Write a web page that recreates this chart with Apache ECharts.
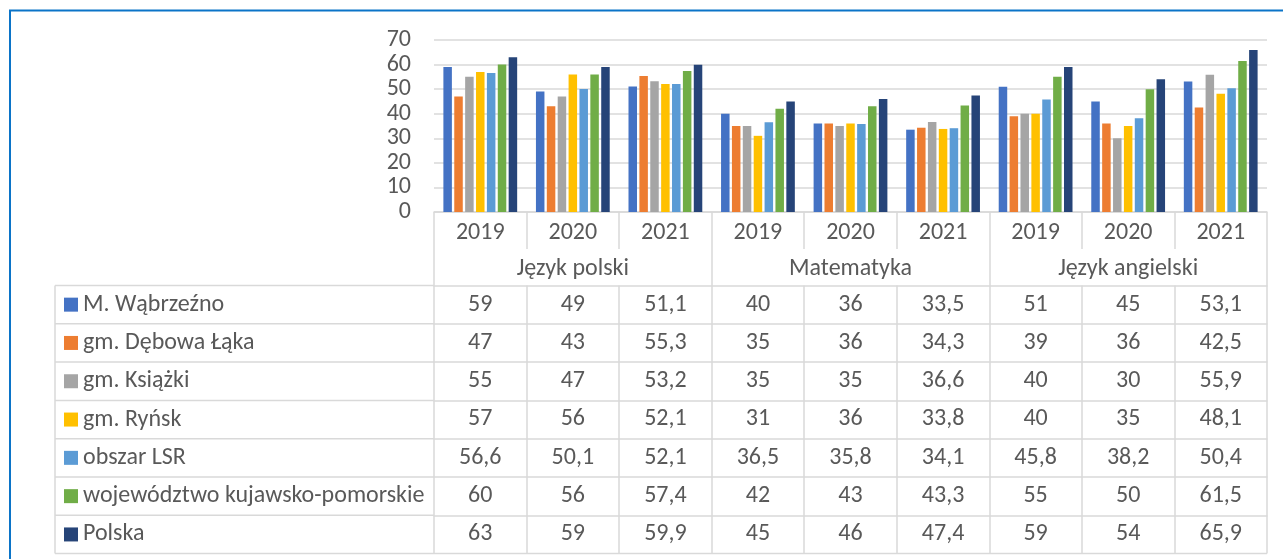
<!DOCTYPE html>
<html>
<head>
<meta charset="utf-8">
<script src="https://cdn.jsdelivr.net/npm/echarts@6/dist/echarts.min.js"></script>
<style>
  html, body { margin: 0; padding: 0; background: #ffffff; }
  #chart { width: 1283px; height: 559px; }
</style>
</head>
<body>
<div id="chart"></div>
<script>
// Categories: three years inside each of three exam subjects
const years = ['2019', '2020', '2021'];
const subjects = ['Język polski', 'Matematyka', 'Język angielski'];

// Series names (rows of the data table)
const seriesNames = [
  'M. Wąbrzeźno',
  'gm. Dębowa Łąka',
  'gm. Książki',
  'gm. Ryńsk',
  'obszar LSR',
  'województwo kujawsko-pomorskie',
  'Polska'
];

// Values per series, ordered: JP 2019-2021, MAT 2019-2021, JA 2019-2021
const wabrzezno = [59, 49, 51.1, 40, 36, 33.5, 51, 45, 53.1];
const debowaLaka = [47, 43, 55.3, 35, 36, 34.3, 39, 36, 42.5];
const ksiazki = [55, 47, 53.2, 35, 35, 36.6, 40, 30, 55.9];
const rynsk = [57, 56, 52.1, 31, 36, 33.8, 40, 35, 48.1];
const obszarLSR = [56.6, 50.1, 52.1, 36.5, 35.8, 34.1, 45.8, 38.2, 50.4];
const wojewodztwo = [60, 56, 57.4, 42, 43, 43.3, 55, 50, 61.5];
const polska = [63, 59, 59.9, 45, 46, 47.4, 59, 54, 65.9];

// Value axis ticks
const yMin = 0;
const yMax = 70;
const yStep = 10;

const seriesValues = [wabrzezno, debowaLaka, ksiazki, rynsk, obszarLSR, wojewodztwo, polska];
const colors = ['#4472C4', '#ED7D31', '#A5A5A5', '#FFC000', '#5B9BD5', '#70AD47', '#264478'];

const yearLabels = [];
subjects.forEach(() => years.forEach(y => yearLabels.push(y)));

const fmt = v => String(v).replace('.', ',');

// Layout
const W = 1283, H = 559;
const gridLeft = 434, gridRight = 16, gridTop = 40, gridBottomY = 212;
const tableLeft = 55;
const yearRowH = 37;
const headerBottom = 285.5;
const rowH = 38.3;
const textColor = '#595959';
const lineColor = '#D9D9D9';
const fontFamily = 'Calibri, Carlito, "Open Sans", sans-serif';
const fontSize = 24;

const labelStyle = (margin) => ({
  interval: 0, margin: margin, color: textColor,
  fontSize: fontSize, fontFamily: fontFamily, lineHeight: fontSize
});

const chart = echarts.init(document.getElementById('chart'), null, { renderer: 'canvas' });

// x axes: year row, subject row, and one axis per data-table row
const xAxes = [
  {
    type: 'category', gridIndex: 0, position: 'bottom', data: yearLabels,
    axisLine: { show: true, lineStyle: { color: lineColor, width: 1.5 } },
    axisTick: { show: true, interval: 0, length: yearRowH, lineStyle: { color: lineColor, width: 1.5 } },
    axisLabel: labelStyle(8.5)
  },
  {
    type: 'category', gridIndex: 0, position: 'bottom', data: subjects,
    axisLine: { show: false },
    axisTick: { show: true, interval: 0, length: headerBottom - gridBottomY, lineStyle: { color: lineColor, width: 1.5 } },
    axisLabel: labelStyle(44.5)
  }
];
seriesValues.forEach((vals, k) => {
  xAxes.push({
    type: 'category', gridIndex: 0, position: 'bottom',
    offset: headerBottom + rowH * k - gridBottomY,
    data: vals.map(fmt),
    axisLine: { show: true, lineStyle: { color: lineColor, width: 1.5 } },
    axisTick: { show: true, interval: 0, length: rowH, lineStyle: { color: lineColor, width: 1.5 } },
    axisLabel: labelStyle(7)
  });
});

// One legend entry per table row, in the left column
const legends = seriesNames.map((name, k) => ({
  orient: 'vertical',
  left: 64,
  top: headerBottom + rowH * k + rowH / 2 - fontSize / 2,
  itemWidth: 14,
  itemHeight: 14,
  icon: 'rect',
  padding: 0,
  selectedMode: false,
  textStyle: { color: textColor, fontSize: fontSize, fontFamily: fontFamily, lineHeight: fontSize },
  data: [name]
}));

// Table borders outside the plotting grid (legend column and bottom edge)
const tableBottom = headerBottom + rowH * seriesValues.length;
const borderLines = [];
for (let k = 0; k <= seriesValues.length; k++) {
  const y = headerBottom + rowH * k;
  borderLines.push({
    type: 'line', silent: true,
    shape: { x1: tableLeft, y1: y, x2: k === seriesValues.length ? W - gridRight : gridLeft, y2: y },
    style: { stroke: lineColor, lineWidth: 1.5 }
  });
}
borderLines.push({
  type: 'line', silent: true,
  shape: { x1: tableLeft, y1: headerBottom, x2: tableLeft, y2: tableBottom },
  style: { stroke: lineColor, lineWidth: 1.5 }
});

const option = {
  backgroundColor: '#ffffff',
  animation: false,
  color: colors,
  textStyle: { fontFamily: fontFamily },
  grid: { left: gridLeft, right: gridRight, top: gridTop, bottom: H - gridBottomY, containLabel: false },
  legend: legends,
  xAxis: xAxes,
  yAxis: {
    type: 'value', min: yMin, max: yMax, interval: yStep,
    axisLine: { show: false },
    axisTick: { show: false },
    axisLabel: { margin: 23, color: textColor, fontSize: fontSize, fontFamily: fontFamily },
    splitLine: { show: true, lineStyle: { color: lineColor, width: 1.5 } }
  },
  series: seriesNames.map((name, i) => ({
    name: name,
    type: 'bar',
    xAxisIndex: 0,
    data: seriesValues[i],
    barWidth: 8.5,
    barGap: '28%',
    itemStyle: { color: colors[i] }
  })),
  graphic: [
    {
      type: 'rect', silent: true,
      shape: { x: 10, y: 10.5, width: W + 20, height: H + 20 },
      style: { fill: 'none', stroke: '#0B74C8', lineWidth: 2 }
    }
  ].concat(borderLines)
};

chart.setOption(option);
</script>
</body>
</html>
